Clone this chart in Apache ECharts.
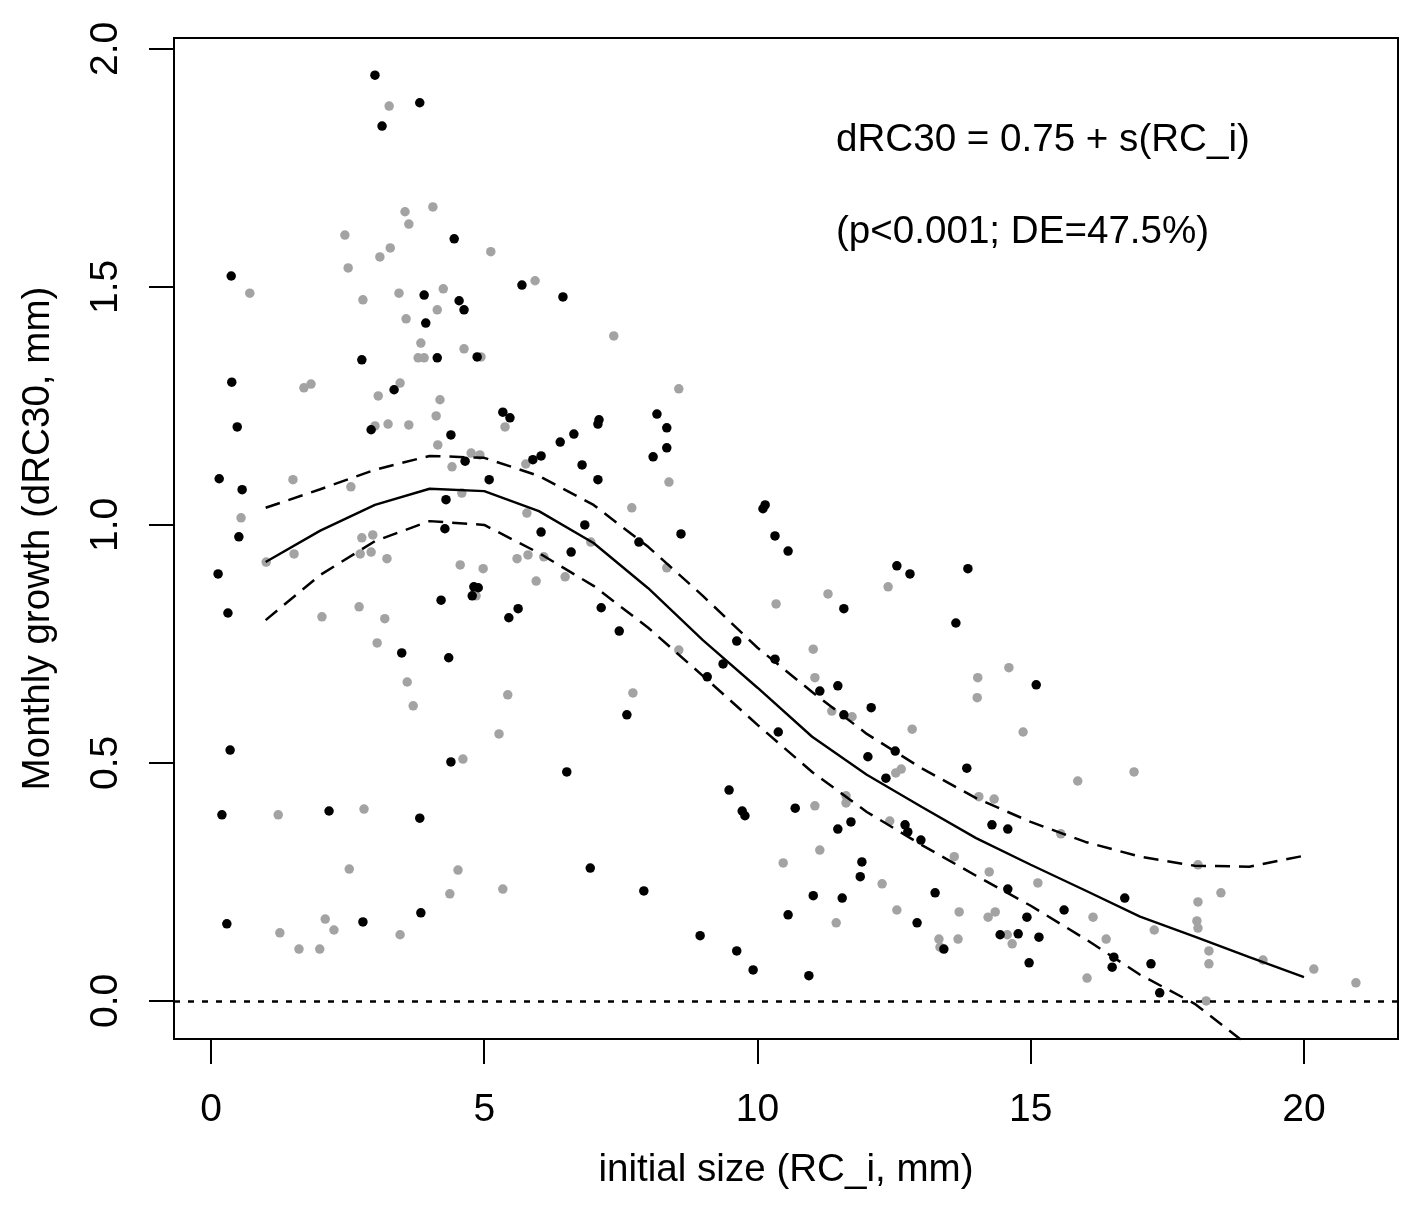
<!DOCTYPE html>
<html>
<head>
<meta charset="utf-8">
<script src="https://cdn.jsdelivr.net/npm/echarts@6/dist/echarts.min.js"></script>
<style>
  html, body { margin: 0; padding: 0; background: #fff; }
  #main { width: 1417px; height: 1214px; }
</style>
</head>
<body>
<div id="main"></div>
<script>
// observed points [RC_i, dRC30]
const blackPoints = [
  [0.15,1.097],[0.13,0.897],[0.20,0.391],[0.29,0.162],[0.31,0.815],[0.37,1.523],[0.35,0.527],[0.38,1.300],
  [0.48,1.206],[0.51,0.975],[0.57,1.074],[2.16,0.399],[2.78,0.166],[2.76,1.347],[2.93,1.200],[3.00,1.945],
  [3.13,1.838],[3.35,1.284],[3.49,0.731],[3.82,1.887],[3.82,0.384],[3.84,0.185],[3.90,1.483],[3.93,1.424],
  [4.14,1.351],[4.21,0.842],[4.28,0.992],[4.30,1.053],[4.35,0.721],[4.39,1.189],[4.39,0.502],[4.45,1.601],
  [4.54,1.471],[4.63,1.452],[4.65,1.134],[4.78,0.851],[4.81,0.870],[4.89,0.868],[4.87,1.353],[5.09,1.095],
  [5.34,1.237],[5.47,1.225],[5.45,0.805],[5.62,0.824],[5.69,1.504],[5.89,1.137],[6.04,1.145],[6.04,0.985],
  [6.39,1.174],[6.44,1.479],[6.51,0.481],[6.59,0.943],[6.64,1.191],[6.79,1.126],[6.84,1.000],[6.94,0.279],
  [7.10,1.221],[7.08,1.212],[7.08,1.095],[7.14,0.826],[7.47,0.777],[7.61,0.601],[7.83,0.964],[7.92,0.231],
  [8.09,1.143],[8.16,1.233],[8.34,1.204],[8.34,1.162],[8.60,0.981],[9.08,0.681],[8.95,0.137],[9.37,0.708],
  [9.48,0.443],[9.62,0.105],[9.62,0.756],[9.72,0.399],[9.77,0.389],[9.92,0.065],[10.14,1.042],[10.10,1.034],
  [10.32,0.977],[10.32,0.718],[10.38,0.565],[10.56,0.945],[10.56,0.181],[10.69,0.405],[10.94,0.053],[11.02,0.221],
  [11.14,0.651],[11.47,0.662],[11.58,0.824],[11.58,0.601],[11.55,0.216],[11.47,0.361],[11.71,0.376],[11.88,0.261],
  [11.91,0.292],[12.02,0.513],[12.08,0.616],[12.35,0.468],[12.52,0.525],[12.55,0.914],[12.70,0.370],[12.75,0.355],
  [12.79,0.897],[12.92,0.164],[12.99,0.338],[13.25,0.227],[13.41,0.109],[13.63,0.794],[13.83,0.489],[13.85,0.908],
  [14.29,0.370],[14.44,0.139],[14.58,0.361],[14.58,0.235],[14.77,0.141],[14.93,0.176],[14.97,0.080],[15.10,0.664],
  [15.15,0.134],[15.61,0.191],[16.49,0.071],[16.52,0.092],[16.72,0.216],[17.20,0.078],[17.36,0.017]
];
const greyPoints = [
  [0.71,1.487],[0.55,1.015],[1.01,0.922],[1.26,0.143],[1.23,0.391],[1.50,1.095],[1.52,0.939],[1.61,0.109],
  [1.70,1.288],[1.83,1.296],[1.99,0.109],[2.03,0.807],[2.09,0.172],[2.25,0.149],[2.45,1.609],[2.51,1.540],
  [2.53,0.277],[2.56,1.080],[2.71,0.828],[2.73,0.939],[2.76,0.973],[2.78,1.473],[2.80,0.403],[2.93,0.943],
  [2.96,0.979],[3.00,1.208],[3.04,0.752],[3.06,1.271],[3.09,1.563],[3.18,0.803],[3.22,0.929],[3.24,1.212],
  [3.26,1.880],[3.28,1.582],[3.44,1.487],[3.46,1.298],[3.46,0.139],[3.55,1.658],[3.57,1.433],[3.59,0.670],
  [3.62,1.632],[3.62,1.210],[3.70,0.620],[3.79,1.351],[3.84,1.382],[3.90,1.351],[4.06,1.668],[4.12,1.229],
  [4.14,1.452],[4.15,1.168],[4.19,1.263],[4.25,1.496],[4.37,0.225],[4.41,1.122],[4.52,0.275],[4.56,0.916],
  [4.59,1.067],[4.61,0.508],[4.63,1.370],[4.76,1.151],[4.85,0.851],[4.92,1.147],[4.94,1.353],[4.98,0.908],
  [5.12,1.574],[5.27,0.561],[5.34,0.235],[5.38,1.206],[5.43,0.643],[5.60,0.929],[5.76,1.128],[5.78,1.025],
  [5.80,0.937],[5.93,1.513],[5.95,0.882],[6.09,0.933],[6.48,0.891],[6.95,0.964],[7.37,1.397],[7.70,1.036],
  [7.72,0.647],[8.34,0.910],[8.38,1.090],[8.56,1.286],[8.56,0.737],[10.34,0.834],[10.47,0.290],[11.02,0.739],
  [11.05,0.679],[11.05,0.410],[11.14,0.317],[11.29,0.855],[11.36,0.609],[11.44,0.164],[11.62,0.431],[11.62,0.416],
  [11.73,0.597],[12.28,0.246],[12.39,0.870],[12.42,0.378],[12.53,0.479],[12.55,0.191],[12.63,0.487],[12.83,0.571],
  [13.32,0.130],[13.34,0.113],[13.60,0.303],[13.67,0.130],[13.69,0.187],[14.02,0.637],[14.03,0.679],[14.05,0.429],
  [14.22,0.176],[14.24,0.271],[14.33,0.424],[14.35,0.187],[14.57,0.139],[14.60,0.700],[14.66,0.120],[14.86,0.565],
  [15.13,0.248],[15.55,0.351],[15.86,0.462],[16.03,0.048],[16.14,0.176],[16.38,0.130],[16.89,0.481],[17.26,0.149],
  [18.04,0.168],[18.06,0.286],[18.06,0.208],[18.06,0.153],[18.21,0.000],[18.26,0.105],[18.26,0.078],[18.48,0.227],
  [19.25,0.086],[20.18,0.067],[20.95,0.038]
];

// GAM fit and confidence band
const fitX   = [1, 2, 3, 4, 5, 6, 7, 8, 9, 10, 11, 12, 13, 14, 15, 16, 17, 18, 19, 20];
const fitY   = [0.922, 0.988, 1.042, 1.076, 1.071, 1.029, 0.962, 0.867, 0.758, 0.658, 0.555, 0.475, 0.408, 0.342, 0.286, 0.232, 0.177, 0.135, 0.092, 0.050];
const upperY = [1.036, 1.075, 1.116, 1.145, 1.141, 1.103, 1.042, 0.954, 0.851, 0.742, 0.649, 0.561, 0.489, 0.426, 0.376, 0.334, 0.303, 0.284, 0.282, 0.305];
const lowerY = [0.800, 0.895, 0.966, 1.008, 1.000, 0.941, 0.872, 0.784, 0.683, 0.580, 0.481, 0.397, 0.328, 0.263, 0.200, 0.130, 0.055, -0.006, -0.095, -0.187];

const xTicks = [0, 5, 10, 15, 20];
const yTicks = [0, 0.5, 1, 1.5, 2];

const FONT = '"Liberation Sans", Arial, Helvetica, sans-serif';
const chart = echarts.init(document.getElementById('main'));

const zip = (xs, ys) => xs.map((x, i) => [x, ys[i]]);
const dashed = { color: '#000', width: 2.5, type: [15, 9] };

chart.setOption({
  animation: false,
  backgroundColor: '#fff',
  grid: { left: 174, right: 19, top: 38, bottom: 175, show: true, borderColor: '#000', borderWidth: 2 },
  xAxis: {
    type: 'value', min: -0.677, max: 21.72,
    name: 'initial size (RC_i, mm)', nameLocation: 'middle', nameGap: 112,
    nameTextStyle: { fontSize: 38.6, color: '#000', fontFamily: FONT },
    axisLine: { show: false, onZero: false },
    splitLine: { show: false },
    axisTick: { show: true, customValues: xTicks, length: 25, inside: false, lineStyle: { color: '#000', width: 2 } },
    axisLabel: { customValues: xTicks, fontSize: 39, color: '#000', fontFamily: FONT, margin: 52 }
  },
  yAxis: {
    type: 'value', min: -0.08, max: 2.023,
    name: 'Monthly growth (dRC30, mm)', nameLocation: 'middle', nameGap: 116,
    nameTextStyle: { fontSize: 38.6, color: '#000', fontFamily: FONT },
    axisLine: { show: false, onZero: false },
    splitLine: { show: false },
    axisTick: { show: true, customValues: yTicks, length: 25, inside: false, lineStyle: { color: '#000', width: 2 } },
    axisLabel: { customValues: yTicks, rotate: 90, fontSize: 39, color: '#000', fontFamily: FONT, margin: 48,
                 formatter: v => v.toFixed(1) }
  },
  graphic: [
    { type: 'text', x: 836, y: 140, style: { text: 'dRC30 = 0.75 + s(RC_i)', font: '38.6px ' + FONT, fill: '#000', verticalAlign: 'middle' } },
    { type: 'text', x: 836, y: 232, style: { text: '(p<0.001; DE=47.5%)', font: '38.6px ' + FONT, fill: '#000', verticalAlign: 'middle' } }
  ],
  series: [
    {
      type: 'scatter', data: greyPoints, symbolSize: 9.5,
      itemStyle: { color: '#a3a3a3', opacity: 1 },
      markLine: {
        silent: true, symbol: ['none', 'none'], label: { show: false },
        lineStyle: { color: '#000', width: 2.5, type: [6, 8] },
        data: [{ yAxis: 0 }]
      }
    },
    { type: 'scatter', data: blackPoints, symbolSize: 9.5, itemStyle: { color: '#000', opacity: 1 } },
    { type: 'line', data: zip(fitX, fitY), showSymbol: false, lineStyle: { color: '#000', width: 2.4 } },
    { type: 'line', data: zip(fitX, upperY), showSymbol: false, lineStyle: dashed },
    { type: 'line', data: zip(fitX, lowerY), showSymbol: false, lineStyle: dashed }
  ]
});
</script>
</body>
</html>
